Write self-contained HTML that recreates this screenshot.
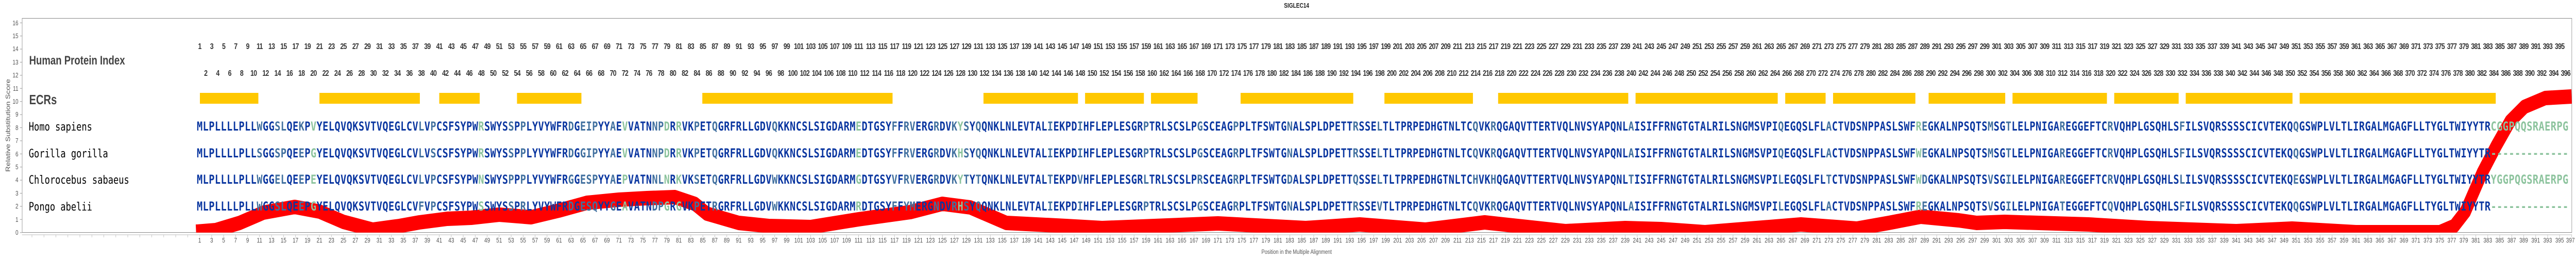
<!DOCTYPE html>
<html><head><meta charset="utf-8">
<style>
html,body{margin:0;padding:0;background:#fff;width:100%;height:500px;overflow:hidden;}
svg{display:block;}
.seq{font-family:"DejaVu Sans Mono","Liberation Mono",monospace;font-weight:bold;font-size:24px;fill:#0a36a0;}
.s{fill:#41709f;}
.g{fill:#8cc39d;}
.sp{font-family:"DejaVu Sans Mono","Liberation Mono",monospace;font-size:22px;fill:#000;}
.top{font-family:"Liberation Sans",sans-serif;font-weight:bold;font-size:16px;fill:#333;letter-spacing:-1px;}
.bot{font-family:"Liberation Sans",sans-serif;font-size:13px;fill:#555;}
</style></head><body>
<svg width="100%" height="500" viewBox="0 0 6451 500" preserveAspectRatio="none">
<defs><clipPath id="c"><rect x="55" y="35" width="6386" height="415.7"/></clipPath>
<pattern id="tk" x="499.5" y="0" width="30" height="5" patternUnits="userSpaceOnUse"><rect x="0" y="0" width="1" height="5" fill="#bbb"/></pattern></defs>
<text x="3247" y="15" text-anchor="middle" font-family="Liberation Sans" font-weight="bold" font-size="13" fill="#222">SIGLEC14</text>
<rect x="55.5" y="35.5" width="6385" height="415" fill="none" stroke="#888" stroke-width="1"/>
<line x1="55" y1="455" x2="6441" y2="455" stroke="#bbb" stroke-width="1"/>
<path stroke="#bbb" stroke-width="1" d="M80 455v5M110 455v5M140 455v5M170 455v5M200 455v5M230 455v5M260 455v5M290 455v5M320 455v5M350 455v5M380 455v5M410 455v5M440 455v5M470 455v5"/>
<rect x="500" y="455" width="5941" height="5" fill="url(#tk)"/>
<g font-family="Liberation Sans" font-size="13" fill="#555" text-anchor="end">
<text x="46" y="455">0</text><text x="46" y="430">1</text><text x="46" y="404">2</text><text x="46" y="379">3</text><text x="46" y="353">4</text><text x="46" y="328">5</text><text x="46" y="303">6</text><text x="46" y="277">7</text><text x="46" y="252">8</text><text x="46" y="226">9</text><text x="46" y="201">10</text><text x="46" y="176">11</text><text x="46" y="150">12</text><text x="46" y="125">13</text><text x="46" y="99">14</text><text x="46" y="74">15</text><text x="46" y="49">16</text>
</g>
<path stroke="#999" d="M50 450.7h5M50 425.3h5M50 399.9h5M50 374.5h5M50 349.1h5M50 323.7h5M50 298.3h5M50 272.9h5M50 247.5h5M50 222.1h5M50 196.7h5M50 171.3h5M50 145.9h5M50 120.5h5M50 95.1h5M50 69.7h5M50 44.3h5"/>
<text transform="translate(25,243) rotate(-90)" text-anchor="middle" font-family="Liberation Sans" font-size="15" fill="#555">Relative Substitution Score</text>
<text x="3247" y="492" text-anchor="middle" font-family="Liberation Sans" font-size="12" fill="#555">Position in the Multiple Alignment</text>
<text x="73" y="125" font-family="Liberation Sans" font-weight="bold" font-size="24" fill="#444">Human Protein Index</text>
<text x="73" y="202" font-family="Liberation Sans" font-weight="bold" font-size="26" fill="#444">ECRs</text>
<g fill="#ffc800">
<rect x="500.6" y="180" width="146.4" height="21"/><rect x="800" y="180" width="251.4" height="21"/><rect x="1100" y="180" width="101.3" height="21"/><rect x="1294.7" y="180" width="161.3" height="21"/><rect x="1758.8" y="180" width="476.4" height="21"/><rect x="2462.9" y="180" width="236.6" height="21"/><rect x="2717.3" y="180" width="147.3" height="21"/><rect x="2882.4" y="180" width="116.6" height="21"/><rect x="3106.8" y="180" width="282.1" height="21"/><rect x="3467" y="180" width="221.6" height="21"/><rect x="3751.7" y="180" width="325.9" height="21"/><rect x="4095.9" y="180" width="356" height="21"/><rect x="4470.7" y="180" width="101.1" height="21"/><rect x="4590.5" y="180" width="206.1" height="21"/><rect x="4829.8" y="180" width="191.8" height="21"/><rect x="5039.9" y="180" width="236.4" height="21"/><rect x="5294.6" y="180" width="161.3" height="21"/><rect x="5473.7" y="180" width="267.3" height="21"/><rect x="5759" y="180" width="491" height="21"/>
</g>
<polyline clip-path="url(#c)" fill="none" stroke="#ff0000" stroke-width="28" stroke-linejoin="round" points="491,449 540,446 600,432 660,412 738,401 800,410 860,430 933,445 1000,438 1050,431 1120,424 1180,422 1250,416 1330,421 1400,408 1470,393 1550,387 1620,384 1690,382 1740,395 1770,414 1850,432 1925,438 2030,440 2150,425 2280,411 2360,395 2430,402 2520,432 2670,438 2760,442 3050,433 3270,442 3405,435 3570,445 3718,431 3920,448 4070,442 4160,444 4270,450 4510,435 4650,443 4730,432 4810,420 4905,427 4950,432 5020,430 5230,435 5380,442 5600,448 5740,443 5900,450 6110,450 6146,438 6174,410 6216,335 6251,283 6286,235 6322,207 6374,190 6440,187"/>
<text class="sp" x="72" y="253">Homo sapiens</text>
<text class="sp" x="72" y="305">Gorilla gorilla</text>
<text class="sp" x="72" y="356">Chlorocebus sabaeus</text>
<text class="sp" x="72" y="408">Pongo abelii</text>
<text class="seq" x="492.8" y="253" letter-spacing="0.55">MLPLLLLPLL<tspan class="s">W</tspan>GG<tspan class="s">SL</tspan>QE<tspan class="s">K</tspan>P<tspan class="g">V</tspan>YELQVQKSVTVQEGLCV<tspan class="s">L</tspan>V<tspan class="s">P</tspan>CSFSYPW<tspan class="g">R</tspan>SWYS<tspan class="s">S</tspan>P<tspan class="s">P</tspan>LYVYWFR<tspan class="s">D</tspan>G<tspan class="s">EIP</tspan>YY<tspan class="s">A</tspan>E<tspan class="g">V</tspan>VATN<tspan class="s">NP</tspan><tspan class="g">D</tspan>R<tspan class="g">R</tspan>VK<tspan class="s">P</tspan>ET<tspan class="s">Q</tspan>GRFRLLGDV<tspan class="s">Q</tspan>KKNCSLSIGDARM<tspan class="g">E</tspan>DTGSY<tspan class="s">F</tspan>F<tspan class="s">RV</tspan>ERG<tspan class="s">R</tspan>DV<tspan class="s">K</tspan><tspan class="g">Y</tspan><tspan class="s">S</tspan>Y<tspan class="s">Q</tspan>QNKLNLEVTAL<tspan class="s">I</tspan>EKPD<tspan class="s">I</tspan>HFLEPLESGR<tspan class="s">P</tspan>TRLSCSLP<tspan class="s">G</tspan>SCEAG<tspan class="s">P</tspan>PLTFSWTG<tspan class="s">N</tspan>ALSPLDPETT<tspan class="s">R</tspan>SSE<tspan class="s">L</tspan>TLTPRPEDHGTNLTC<tspan class="s">Q</tspan>VK<tspan class="s">R</tspan>QGAQVTTERTVQLNVSYAPQNL<tspan class="s">A</tspan>ISIFFRNGTGTALRILSNGMSVPI<tspan class="s">Q</tspan>EGQSLFL<tspan class="s">A</tspan>CTVDSNPPASLSWF<tspan class="g">R</tspan><tspan class="s">E</tspan>GKALNPSQTS<tspan class="s">M</tspan>SG<tspan class="s">T</tspan>LELPNIGA<tspan class="s">R</tspan>EGGEFTC<tspan class="s">R</tspan>VQHPLGSQHLS<tspan class="s">F</tspan>ILSVQRSSSSCICVTEKQ<tspan class="s">Q</tspan>GSWPLVLTLIRGALMGAGFLLTYGLTWIYYTR<tspan class="g">CGGPQQSRAERPG</tspan></text>
<text class="seq" x="492.8" y="305" letter-spacing="0.55">MLPLLLLPLL<tspan class="s">S</tspan>GG<tspan class="s">SP</tspan>QE<tspan class="s">E</tspan>P<tspan class="g">G</tspan>YELQVQKSVTVQEGLCV<tspan class="s">L</tspan>V<tspan class="s">S</tspan>CSFSYPW<tspan class="g">R</tspan>SWYS<tspan class="s">S</tspan>P<tspan class="s">P</tspan>LYVYWFR<tspan class="s">D</tspan>G<tspan class="s">GIP</tspan>YY<tspan class="s">A</tspan>E<tspan class="g">V</tspan>VATN<tspan class="s">NP</tspan><tspan class="g">D</tspan>R<tspan class="g">R</tspan>VK<tspan class="s">P</tspan>ET<tspan class="s">Q</tspan>GRFRLLGDV<tspan class="s">Q</tspan>KKNCSLSIGDARM<tspan class="g">E</tspan>DTGSY<tspan class="s">F</tspan>F<tspan class="s">RV</tspan>ERG<tspan class="s">R</tspan>DV<tspan class="s">K</tspan><tspan class="g">H</tspan><tspan class="s">S</tspan>Y<tspan class="s">Q</tspan>QNKLNLEVTAL<tspan class="s">I</tspan>EKPD<tspan class="s">I</tspan>HFLEPLESGR<tspan class="s">P</tspan>TRLSCSLP<tspan class="s">G</tspan>SCEAG<tspan class="s">R</tspan>PLTFSWTG<tspan class="s">N</tspan>ALSPLDPETT<tspan class="s">R</tspan>SSE<tspan class="s">L</tspan>TLTPRPEDHGTNLTC<tspan class="s">Q</tspan>VK<tspan class="s">R</tspan>QGAQVTTERTVQLNVSYAPQNL<tspan class="s">A</tspan>ISIFFRNGTGTALRILSNGMSVPI<tspan class="s">Q</tspan>EGQSLFL<tspan class="s">A</tspan>CTVDSNPPASLSWF<tspan class="g">W</tspan><tspan class="s">E</tspan>GKALNPSQTS<tspan class="s">M</tspan>SG<tspan class="s">T</tspan>LELPNIGA<tspan class="s">R</tspan>EGGEFTC<tspan class="s">R</tspan>VQHPLGSQHLS<tspan class="s">F</tspan>ILSVQRSSSSCICVTEKQ<tspan class="s">Q</tspan>GSWPLVLTLIRGALMGAGFLLTYGLTWIYYTR<tspan class="g">-------------</tspan></text>
<text class="seq" x="492.8" y="356" letter-spacing="0.55">MLPLLLLPLL<tspan class="s">W</tspan>GG<tspan class="s">EL</tspan>QE<tspan class="s">E</tspan>P<tspan class="g">E</tspan>YELQVQKSVTVQEGLCV<tspan class="s">L</tspan>V<tspan class="s">P</tspan>CSFSYPW<tspan class="g">N</tspan>SWYS<tspan class="s">P</tspan>P<tspan class="s">P</tspan>LYVYWFR<tspan class="s">G</tspan>G<tspan class="s">ESP</tspan>YY<tspan class="s">A</tspan>E<tspan class="g">P</tspan>VATN<tspan class="s">NL</tspan><tspan class="g">N</tspan>R<tspan class="g">K</tspan>VK<tspan class="s">S</tspan>ET<tspan class="s">Q</tspan>GRFRLLGDV<tspan class="s">W</tspan>KKNCSLSIGDARM<tspan class="g">G</tspan>DTGSY<tspan class="s">V</tspan>F<tspan class="s">RV</tspan>ERG<tspan class="s">R</tspan>DV<tspan class="s">K</tspan><tspan class="g">Y</tspan><tspan class="s">T</tspan>Y<tspan class="s">T</tspan>QNKLNLEVTAL<tspan class="s">T</tspan>EKPD<tspan class="s">V</tspan>HFLEPLESGR<tspan class="s">L</tspan>TRLSCSLP<tspan class="s">R</tspan>SCEAG<tspan class="s">R</tspan>PLTFSWTG<tspan class="s">D</tspan>ALSPLDPETT<tspan class="s">Q</tspan>SSE<tspan class="s">L</tspan>TLTPRPEDHGTNLTC<tspan class="s">H</tspan>VK<tspan class="s">H</tspan>QGAQVTTERTVQLNVSYAPQNL<tspan class="s">T</tspan>ISIFFRNGTGTALRILSNGMSVPI<tspan class="s">L</tspan>EGQSLFL<tspan class="s">T</tspan>CTVDSNPPASLSWF<tspan class="g">W</tspan><tspan class="s">D</tspan>GKALNPSQTS<tspan class="s">V</tspan>SG<tspan class="s">I</tspan>LELPNIGA<tspan class="s">R</tspan>EGGEFTC<tspan class="s">R</tspan>VQHPLGSQHLS<tspan class="s">L</tspan>ILSVQRSSSSCICVTEKQ<tspan class="s">E</tspan>GSWPLVLTLIRGALMGAGFLLTYGLTWIYYTR<tspan class="g">YGGPQGSRAERPG</tspan></text>
<text class="seq" x="492.8" y="408" letter-spacing="0.55">MLPLLLLPLL<tspan class="s">W</tspan>GG<tspan class="s">SL</tspan>QE<tspan class="s">E</tspan>P<tspan class="g">G</tspan>YELQVQKSVTVQEGLCV<tspan class="s">F</tspan>V<tspan class="s">P</tspan>CSFSYPW<tspan class="g">S</tspan>SWYS<tspan class="s">S</tspan>P<tspan class="s">R</tspan>LYVYWFR<tspan class="s">D</tspan>G<tspan class="s">ESQ</tspan>YY<tspan class="s">G</tspan>E<tspan class="g">A</tspan>VATN<tspan class="s">DP</tspan><tspan class="g">G</tspan>R<tspan class="g">G</tspan>VK<tspan class="s">P</tspan>ET<tspan class="s">R</tspan>GRFRLLGDV<tspan class="s">W</tspan>KKNCSLSIGDARM<tspan class="g">R</tspan>DTGSY<tspan class="s">F</tspan>F<tspan class="s">YM</tspan>ERG<tspan class="s">N</tspan>DV<tspan class="s">R</tspan><tspan class="g">H</tspan><tspan class="s">S</tspan>Y<tspan class="s">Q</tspan>QNKLNLEVTAL<tspan class="s">I</tspan>EKPD<tspan class="s">I</tspan>HFLEPLESGR<tspan class="s">P</tspan>TRLSCSLP<tspan class="s">G</tspan>SCEAG<tspan class="s">R</tspan>PLTFSWTG<tspan class="s">N</tspan>ALSPLDPETT<tspan class="s">R</tspan>SSE<tspan class="s">V</tspan>TLTPRPEDHGTNLTC<tspan class="s">Q</tspan>VK<tspan class="s">R</tspan>QGAQVTTERTVQLNVSYAPQNL<tspan class="s">A</tspan>ISIFFRNGTGTALRILSNGMSVPI<tspan class="s">L</tspan>EGQSLFL<tspan class="s">A</tspan>CTVDSNPPASLSWF<tspan class="g">R</tspan><tspan class="s">E</tspan>GKALNPSQTS<tspan class="s">V</tspan>SG<tspan class="s">I</tspan>LELPNIGA<tspan class="s">T</tspan>EGGEFTC<tspan class="s">Q</tspan>VQHPLGSQHLS<tspan class="s">F</tspan>ILSVQRSSSSCICVTEKQ<tspan class="s">Q</tspan>GSWPLVLTLIRGALMGAGFLLTYGLTWIYYTR<tspan class="g">-------------</tspan></text>
<text class="top" y="95" text-anchor="middle"><tspan x="500">1</tspan><tspan x="530">3</tspan><tspan x="560">5</tspan><tspan x="590">7</tspan><tspan x="620">9</tspan><tspan x="650">11</tspan><tspan x="680">13</tspan><tspan x="710">15</tspan><tspan x="740">17</tspan><tspan x="770">19</tspan><tspan x="800">21</tspan><tspan x="830">23</tspan><tspan x="860">25</tspan><tspan x="890">27</tspan><tspan x="920">29</tspan><tspan x="950">31</tspan><tspan x="980">33</tspan><tspan x="1010">35</tspan><tspan x="1040">37</tspan><tspan x="1070">39</tspan><tspan x="1100">41</tspan><tspan x="1130">43</tspan><tspan x="1160">45</tspan><tspan x="1190">47</tspan><tspan x="1220">49</tspan><tspan x="1250">51</tspan><tspan x="1280">53</tspan><tspan x="1310">55</tspan><tspan x="1340">57</tspan><tspan x="1370">59</tspan><tspan x="1400">61</tspan><tspan x="1430">63</tspan><tspan x="1460">65</tspan><tspan x="1490">67</tspan><tspan x="1520">69</tspan><tspan x="1550">71</tspan><tspan x="1580">73</tspan><tspan x="1610">75</tspan><tspan x="1640">77</tspan><tspan x="1670">79</tspan><tspan x="1700">81</tspan><tspan x="1730">83</tspan><tspan x="1760">85</tspan><tspan x="1790">87</tspan><tspan x="1820">89</tspan><tspan x="1850">91</tspan><tspan x="1880">93</tspan><tspan x="1910">95</tspan><tspan x="1940">97</tspan><tspan x="1970">99</tspan><tspan x="2000">101</tspan><tspan x="2030">103</tspan><tspan x="2060">105</tspan><tspan x="2090">107</tspan><tspan x="2120">109</tspan><tspan x="2150">111</tspan><tspan x="2180">113</tspan><tspan x="2210">115</tspan><tspan x="2240">117</tspan><tspan x="2270">119</tspan><tspan x="2300">121</tspan><tspan x="2330">123</tspan><tspan x="2360">125</tspan><tspan x="2390">127</tspan><tspan x="2420">129</tspan><tspan x="2450">131</tspan><tspan x="2480">133</tspan><tspan x="2510">135</tspan><tspan x="2540">137</tspan><tspan x="2570">139</tspan><tspan x="2600">141</tspan><tspan x="2630">143</tspan><tspan x="2660">145</tspan><tspan x="2690">147</tspan><tspan x="2720">149</tspan><tspan x="2750">151</tspan><tspan x="2780">153</tspan><tspan x="2810">155</tspan><tspan x="2840">157</tspan><tspan x="2870">159</tspan><tspan x="2900">161</tspan><tspan x="2930">163</tspan><tspan x="2960">165</tspan><tspan x="2990">167</tspan><tspan x="3020">169</tspan><tspan x="3050">171</tspan><tspan x="3080">173</tspan><tspan x="3110">175</tspan><tspan x="3140">177</tspan><tspan x="3170">179</tspan><tspan x="3200">181</tspan><tspan x="3230">183</tspan><tspan x="3260">185</tspan><tspan x="3290">187</tspan><tspan x="3320">189</tspan><tspan x="3350">191</tspan><tspan x="3380">193</tspan><tspan x="3410">195</tspan><tspan x="3440">197</tspan><tspan x="3470">199</tspan><tspan x="3500">201</tspan><tspan x="3530">203</tspan><tspan x="3560">205</tspan><tspan x="3590">207</tspan><tspan x="3620">209</tspan><tspan x="3650">211</tspan><tspan x="3680">213</tspan><tspan x="3710">215</tspan><tspan x="3740">217</tspan><tspan x="3770">219</tspan><tspan x="3800">221</tspan><tspan x="3830">223</tspan><tspan x="3860">225</tspan><tspan x="3890">227</tspan><tspan x="3920">229</tspan><tspan x="3950">231</tspan><tspan x="3980">233</tspan><tspan x="4010">235</tspan><tspan x="4040">237</tspan><tspan x="4070">239</tspan><tspan x="4100">241</tspan><tspan x="4130">243</tspan><tspan x="4160">245</tspan><tspan x="4190">247</tspan><tspan x="4220">249</tspan><tspan x="4250">251</tspan><tspan x="4280">253</tspan><tspan x="4310">255</tspan><tspan x="4340">257</tspan><tspan x="4370">259</tspan><tspan x="4400">261</tspan><tspan x="4430">263</tspan><tspan x="4460">265</tspan><tspan x="4490">267</tspan><tspan x="4520">269</tspan><tspan x="4550">271</tspan><tspan x="4580">273</tspan><tspan x="4610">275</tspan><tspan x="4640">277</tspan><tspan x="4670">279</tspan><tspan x="4700">281</tspan><tspan x="4730">283</tspan><tspan x="4760">285</tspan><tspan x="4790">287</tspan><tspan x="4820">289</tspan><tspan x="4850">291</tspan><tspan x="4880">293</tspan><tspan x="4910">295</tspan><tspan x="4940">297</tspan><tspan x="4970">299</tspan><tspan x="5000">301</tspan><tspan x="5030">303</tspan><tspan x="5060">305</tspan><tspan x="5090">307</tspan><tspan x="5120">309</tspan><tspan x="5150">311</tspan><tspan x="5180">313</tspan><tspan x="5210">315</tspan><tspan x="5240">317</tspan><tspan x="5270">319</tspan><tspan x="5300">321</tspan><tspan x="5330">323</tspan><tspan x="5360">325</tspan><tspan x="5390">327</tspan><tspan x="5420">329</tspan><tspan x="5450">331</tspan><tspan x="5480">333</tspan><tspan x="5510">335</tspan><tspan x="5540">337</tspan><tspan x="5570">339</tspan><tspan x="5600">341</tspan><tspan x="5630">343</tspan><tspan x="5660">345</tspan><tspan x="5690">347</tspan><tspan x="5720">349</tspan><tspan x="5750">351</tspan><tspan x="5780">353</tspan><tspan x="5810">355</tspan><tspan x="5840">357</tspan><tspan x="5870">359</tspan><tspan x="5900">361</tspan><tspan x="5930">363</tspan><tspan x="5960">365</tspan><tspan x="5990">367</tspan><tspan x="6020">369</tspan><tspan x="6050">371</tspan><tspan x="6080">373</tspan><tspan x="6110">375</tspan><tspan x="6140">377</tspan><tspan x="6170">379</tspan><tspan x="6200">381</tspan><tspan x="6230">383</tspan><tspan x="6260">385</tspan><tspan x="6290">387</tspan><tspan x="6320">389</tspan><tspan x="6350">391</tspan><tspan x="6380">393</tspan><tspan x="6410">395</tspan></text>
<text class="top" y="147" text-anchor="middle"><tspan x="515">2</tspan><tspan x="545">4</tspan><tspan x="575">6</tspan><tspan x="605">8</tspan><tspan x="635">10</tspan><tspan x="665">12</tspan><tspan x="695">14</tspan><tspan x="725">16</tspan><tspan x="755">18</tspan><tspan x="785">20</tspan><tspan x="815">22</tspan><tspan x="845">24</tspan><tspan x="875">26</tspan><tspan x="905">28</tspan><tspan x="935">30</tspan><tspan x="965">32</tspan><tspan x="995">34</tspan><tspan x="1025">36</tspan><tspan x="1055">38</tspan><tspan x="1085">40</tspan><tspan x="1115">42</tspan><tspan x="1145">44</tspan><tspan x="1175">46</tspan><tspan x="1205">48</tspan><tspan x="1235">50</tspan><tspan x="1265">52</tspan><tspan x="1295">54</tspan><tspan x="1325">56</tspan><tspan x="1355">58</tspan><tspan x="1385">60</tspan><tspan x="1415">62</tspan><tspan x="1445">64</tspan><tspan x="1475">66</tspan><tspan x="1505">68</tspan><tspan x="1535">70</tspan><tspan x="1565">72</tspan><tspan x="1595">74</tspan><tspan x="1625">76</tspan><tspan x="1655">78</tspan><tspan x="1685">80</tspan><tspan x="1715">82</tspan><tspan x="1745">84</tspan><tspan x="1775">86</tspan><tspan x="1805">88</tspan><tspan x="1835">90</tspan><tspan x="1865">92</tspan><tspan x="1895">94</tspan><tspan x="1925">96</tspan><tspan x="1955">98</tspan><tspan x="1985">100</tspan><tspan x="2015">102</tspan><tspan x="2045">104</tspan><tspan x="2075">106</tspan><tspan x="2105">108</tspan><tspan x="2135">110</tspan><tspan x="2165">112</tspan><tspan x="2195">114</tspan><tspan x="2225">116</tspan><tspan x="2255">118</tspan><tspan x="2285">120</tspan><tspan x="2315">122</tspan><tspan x="2345">124</tspan><tspan x="2375">126</tspan><tspan x="2405">128</tspan><tspan x="2435">130</tspan><tspan x="2465">132</tspan><tspan x="2495">134</tspan><tspan x="2525">136</tspan><tspan x="2555">138</tspan><tspan x="2585">140</tspan><tspan x="2615">142</tspan><tspan x="2645">144</tspan><tspan x="2675">146</tspan><tspan x="2705">148</tspan><tspan x="2735">150</tspan><tspan x="2765">152</tspan><tspan x="2795">154</tspan><tspan x="2825">156</tspan><tspan x="2855">158</tspan><tspan x="2885">160</tspan><tspan x="2915">162</tspan><tspan x="2945">164</tspan><tspan x="2975">166</tspan><tspan x="3005">168</tspan><tspan x="3035">170</tspan><tspan x="3065">172</tspan><tspan x="3095">174</tspan><tspan x="3125">176</tspan><tspan x="3155">178</tspan><tspan x="3185">180</tspan><tspan x="3215">182</tspan><tspan x="3245">184</tspan><tspan x="3275">186</tspan><tspan x="3305">188</tspan><tspan x="3335">190</tspan><tspan x="3365">192</tspan><tspan x="3395">194</tspan><tspan x="3425">196</tspan><tspan x="3455">198</tspan><tspan x="3485">200</tspan><tspan x="3515">202</tspan><tspan x="3545">204</tspan><tspan x="3575">206</tspan><tspan x="3605">208</tspan><tspan x="3635">210</tspan><tspan x="3665">212</tspan><tspan x="3695">214</tspan><tspan x="3725">216</tspan><tspan x="3755">218</tspan><tspan x="3785">220</tspan><tspan x="3815">222</tspan><tspan x="3845">224</tspan><tspan x="3875">226</tspan><tspan x="3905">228</tspan><tspan x="3935">230</tspan><tspan x="3965">232</tspan><tspan x="3995">234</tspan><tspan x="4025">236</tspan><tspan x="4055">238</tspan><tspan x="4085">240</tspan><tspan x="4115">242</tspan><tspan x="4145">244</tspan><tspan x="4175">246</tspan><tspan x="4205">248</tspan><tspan x="4235">250</tspan><tspan x="4265">252</tspan><tspan x="4295">254</tspan><tspan x="4325">256</tspan><tspan x="4355">258</tspan><tspan x="4385">260</tspan><tspan x="4415">262</tspan><tspan x="4445">264</tspan><tspan x="4475">266</tspan><tspan x="4505">268</tspan><tspan x="4535">270</tspan><tspan x="4565">272</tspan><tspan x="4595">274</tspan><tspan x="4625">276</tspan><tspan x="4655">278</tspan><tspan x="4685">280</tspan><tspan x="4715">282</tspan><tspan x="4745">284</tspan><tspan x="4775">286</tspan><tspan x="4805">288</tspan><tspan x="4835">290</tspan><tspan x="4865">292</tspan><tspan x="4895">294</tspan><tspan x="4925">296</tspan><tspan x="4955">298</tspan><tspan x="4985">300</tspan><tspan x="5015">302</tspan><tspan x="5045">304</tspan><tspan x="5075">306</tspan><tspan x="5105">308</tspan><tspan x="5135">310</tspan><tspan x="5165">312</tspan><tspan x="5195">314</tspan><tspan x="5225">316</tspan><tspan x="5255">318</tspan><tspan x="5285">320</tspan><tspan x="5315">322</tspan><tspan x="5345">324</tspan><tspan x="5375">326</tspan><tspan x="5405">328</tspan><tspan x="5435">330</tspan><tspan x="5465">332</tspan><tspan x="5495">334</tspan><tspan x="5525">336</tspan><tspan x="5555">338</tspan><tspan x="5585">340</tspan><tspan x="5615">342</tspan><tspan x="5645">344</tspan><tspan x="5675">346</tspan><tspan x="5705">348</tspan><tspan x="5735">350</tspan><tspan x="5765">352</tspan><tspan x="5795">354</tspan><tspan x="5825">356</tspan><tspan x="5855">358</tspan><tspan x="5885">360</tspan><tspan x="5915">362</tspan><tspan x="5945">364</tspan><tspan x="5975">366</tspan><tspan x="6005">368</tspan><tspan x="6035">370</tspan><tspan x="6065">372</tspan><tspan x="6095">374</tspan><tspan x="6125">376</tspan><tspan x="6155">378</tspan><tspan x="6185">380</tspan><tspan x="6215">382</tspan><tspan x="6245">384</tspan><tspan x="6275">386</tspan><tspan x="6305">388</tspan><tspan x="6335">390</tspan><tspan x="6365">392</tspan><tspan x="6395">394</tspan><tspan x="6425">396</tspan></text>
<text class="bot" y="470" text-anchor="middle"><tspan x="500">1</tspan><tspan x="530">3</tspan><tspan x="560">5</tspan><tspan x="590">7</tspan><tspan x="620">9</tspan><tspan x="650">11</tspan><tspan x="680">13</tspan><tspan x="710">15</tspan><tspan x="740">17</tspan><tspan x="770">19</tspan><tspan x="800">21</tspan><tspan x="830">23</tspan><tspan x="860">25</tspan><tspan x="890">27</tspan><tspan x="920">29</tspan><tspan x="950">31</tspan><tspan x="980">33</tspan><tspan x="1010">35</tspan><tspan x="1040">37</tspan><tspan x="1070">39</tspan><tspan x="1100">41</tspan><tspan x="1130">43</tspan><tspan x="1160">45</tspan><tspan x="1190">47</tspan><tspan x="1220">49</tspan><tspan x="1250">51</tspan><tspan x="1280">53</tspan><tspan x="1310">55</tspan><tspan x="1340">57</tspan><tspan x="1370">59</tspan><tspan x="1400">61</tspan><tspan x="1430">63</tspan><tspan x="1460">65</tspan><tspan x="1490">67</tspan><tspan x="1520">69</tspan><tspan x="1550">71</tspan><tspan x="1580">73</tspan><tspan x="1610">75</tspan><tspan x="1640">77</tspan><tspan x="1670">79</tspan><tspan x="1700">81</tspan><tspan x="1730">83</tspan><tspan x="1760">85</tspan><tspan x="1790">87</tspan><tspan x="1820">89</tspan><tspan x="1850">91</tspan><tspan x="1880">93</tspan><tspan x="1910">95</tspan><tspan x="1940">97</tspan><tspan x="1970">99</tspan><tspan x="2000">101</tspan><tspan x="2030">103</tspan><tspan x="2060">105</tspan><tspan x="2090">107</tspan><tspan x="2120">109</tspan><tspan x="2150">111</tspan><tspan x="2180">113</tspan><tspan x="2210">115</tspan><tspan x="2240">117</tspan><tspan x="2270">119</tspan><tspan x="2300">121</tspan><tspan x="2330">123</tspan><tspan x="2360">125</tspan><tspan x="2390">127</tspan><tspan x="2420">129</tspan><tspan x="2450">131</tspan><tspan x="2480">133</tspan><tspan x="2510">135</tspan><tspan x="2540">137</tspan><tspan x="2570">139</tspan><tspan x="2600">141</tspan><tspan x="2630">143</tspan><tspan x="2660">145</tspan><tspan x="2690">147</tspan><tspan x="2720">149</tspan><tspan x="2750">151</tspan><tspan x="2780">153</tspan><tspan x="2810">155</tspan><tspan x="2840">157</tspan><tspan x="2870">159</tspan><tspan x="2900">161</tspan><tspan x="2930">163</tspan><tspan x="2960">165</tspan><tspan x="2990">167</tspan><tspan x="3020">169</tspan><tspan x="3050">171</tspan><tspan x="3080">173</tspan><tspan x="3110">175</tspan><tspan x="3140">177</tspan><tspan x="3170">179</tspan><tspan x="3200">181</tspan><tspan x="3230">183</tspan><tspan x="3260">185</tspan><tspan x="3290">187</tspan><tspan x="3320">189</tspan><tspan x="3350">191</tspan><tspan x="3380">193</tspan><tspan x="3410">195</tspan><tspan x="3440">197</tspan><tspan x="3470">199</tspan><tspan x="3500">201</tspan><tspan x="3530">203</tspan><tspan x="3560">205</tspan><tspan x="3590">207</tspan><tspan x="3620">209</tspan><tspan x="3650">211</tspan><tspan x="3680">213</tspan><tspan x="3710">215</tspan><tspan x="3740">217</tspan><tspan x="3770">219</tspan><tspan x="3800">221</tspan><tspan x="3830">223</tspan><tspan x="3860">225</tspan><tspan x="3890">227</tspan><tspan x="3920">229</tspan><tspan x="3950">231</tspan><tspan x="3980">233</tspan><tspan x="4010">235</tspan><tspan x="4040">237</tspan><tspan x="4070">239</tspan><tspan x="4100">241</tspan><tspan x="4130">243</tspan><tspan x="4160">245</tspan><tspan x="4190">247</tspan><tspan x="4220">249</tspan><tspan x="4250">251</tspan><tspan x="4280">253</tspan><tspan x="4310">255</tspan><tspan x="4340">257</tspan><tspan x="4370">259</tspan><tspan x="4400">261</tspan><tspan x="4430">263</tspan><tspan x="4460">265</tspan><tspan x="4490">267</tspan><tspan x="4520">269</tspan><tspan x="4550">271</tspan><tspan x="4580">273</tspan><tspan x="4610">275</tspan><tspan x="4640">277</tspan><tspan x="4670">279</tspan><tspan x="4700">281</tspan><tspan x="4730">283</tspan><tspan x="4760">285</tspan><tspan x="4790">287</tspan><tspan x="4820">289</tspan><tspan x="4850">291</tspan><tspan x="4880">293</tspan><tspan x="4910">295</tspan><tspan x="4940">297</tspan><tspan x="4970">299</tspan><tspan x="5000">301</tspan><tspan x="5030">303</tspan><tspan x="5060">305</tspan><tspan x="5090">307</tspan><tspan x="5120">309</tspan><tspan x="5150">311</tspan><tspan x="5180">313</tspan><tspan x="5210">315</tspan><tspan x="5240">317</tspan><tspan x="5270">319</tspan><tspan x="5300">321</tspan><tspan x="5330">323</tspan><tspan x="5360">325</tspan><tspan x="5390">327</tspan><tspan x="5420">329</tspan><tspan x="5450">331</tspan><tspan x="5480">333</tspan><tspan x="5510">335</tspan><tspan x="5540">337</tspan><tspan x="5570">339</tspan><tspan x="5600">341</tspan><tspan x="5630">343</tspan><tspan x="5660">345</tspan><tspan x="5690">347</tspan><tspan x="5720">349</tspan><tspan x="5750">351</tspan><tspan x="5780">353</tspan><tspan x="5810">355</tspan><tspan x="5840">357</tspan><tspan x="5870">359</tspan><tspan x="5900">361</tspan><tspan x="5930">363</tspan><tspan x="5960">365</tspan><tspan x="5990">367</tspan><tspan x="6020">369</tspan><tspan x="6050">371</tspan><tspan x="6080">373</tspan><tspan x="6110">375</tspan><tspan x="6140">377</tspan><tspan x="6170">379</tspan><tspan x="6200">381</tspan><tspan x="6230">383</tspan><tspan x="6260">385</tspan><tspan x="6290">387</tspan><tspan x="6320">389</tspan><tspan x="6350">391</tspan><tspan x="6380">393</tspan><tspan x="6410">395</tspan><tspan x="6437">397</tspan></text>
</svg>
</body></html>
